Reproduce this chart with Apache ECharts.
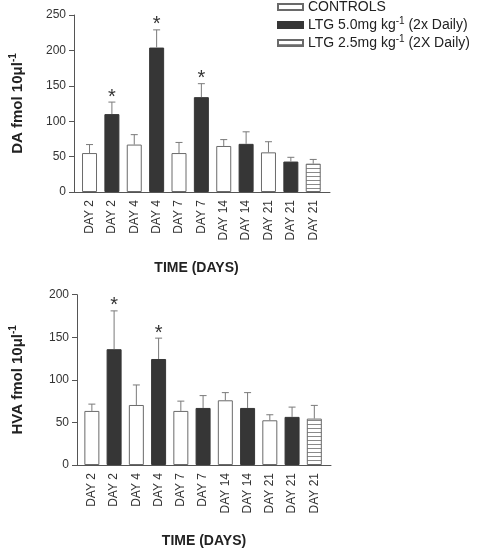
<!DOCTYPE html>
<html>
<head>
<meta charset="utf-8">
<script src="https://cdn.jsdelivr.net/npm/echarts@6/dist/echarts.min.js"></script>
<style>
html,body{margin:0;padding:0;background:#fff;}
#chart{width:478px;height:549px;}
</style>
</head>
<body>
<div id="chart"></div>
<script>
// ---- data ----
const categories = ['DAY 2','DAY 2','DAY 4','DAY 4','DAY 7','DAY 7','DAY 14','DAY 14','DAY 21','DAY 21','DAY 21'];
// group of each bar: 0 = controls, 1 = LTG 5.0, 2 = LTG 2.5
const groups = [0,1,0,1,0,1,0,1,0,1,2];
const seriesNames = ['CONTROLS','LTG 5.0mg kg-1 (2x Daily)','LTG 2.5mg kg-1 (2X Daily)'];

const daMean = [55,110,67,204,55,134,65,68,56,43,40];
const daSem  = [12,17,14,25,15,19,9,17,15,6,6];
const daSig  = [0,1,0,1,0,1,0,0,0,0,0];

const hvaMean = [63.5,136,70.5,124.5,63.5,67,76,67,52.5,56.5,54.5];
const hvaSem  = [8,45,23.5,24.5,11.5,14.5,9,18,6.5,11.5,15.5];
const hvaSig  = [0,1,0,1,0,0,0,0,0,0,0];

const daTicks = [0,50,100,150,200,250];
const hvaTicks = [0,50,100,150,200];

// ---- styles ----
const FONT = 'Liberation Sans, Arial, sans-serif';
const stripe = document.createElement('canvas');
stripe.width = 4; stripe.height = 4;
(function(){
  const c = stripe.getContext('2d');
  c.fillStyle = '#fff'; c.fillRect(0,0,4,4);
  c.fillStyle = '#8a8a8a'; c.fillRect(0,0,4,1);
})();
const groupStyles = [
  {color:'#ffffff', borderColor:'#6a6a6a', borderWidth:1},
  {color:'#363636', borderColor:'#363636', borderWidth:1},
  {color:{image:stripe, repeat:'repeat'}, borderColor:'#6a6a6a', borderWidth:1}
];

function barSeries(means, axisIdx){
  return seriesNames.map((name, g) => ({
    name: name,
    type: 'bar',
    xAxisIndex: axisIdx,
    yAxisIndex: axisIdx,
    barWidth: 15,
    barGap: '-100%',
    itemStyle: groupStyles[g],
    emphasis: {disabled: true},
    data: means.map((v, i) => groups[i] === g ? [i, v] : null).filter(d => d !== null)
  }));
}

function errSeries(means, sems, sigs, axisIdx){
  return {
    type: 'custom',
    xAxisIndex: axisIdx,
    yAxisIndex: axisIdx,
    z: 5,
    silent: true,
    data: means.map((v, i) => [i, v, v + sems[i], sigs[i]]),
    renderItem: function(params, api){
      const x = api.value(0), m = api.value(1), e = api.value(2), s = api.value(3);
      const p0 = api.coord([x, m]);
      const p1 = api.coord([x, e]);
      const children = [
        {type:'line', shape:{x1:p0[0], y1:p0[1], x2:p1[0], y2:p1[1]}, style:{stroke:'#7a7a7a', lineWidth:1}},
        {type:'line', shape:{x1:p1[0]-3.5, y1:p1[1], x2:p1[0]+3.5, y2:p1[1]}, style:{stroke:'#7a7a7a', lineWidth:1}}
      ];
      if (s) {
        children.push({type:'text', style:{text:'*', x:p1[0], y:p1[1]-5, align:'center', verticalAlign:'middle', font:'20px ' + FONT, fill:'#333'}});
      }
      return {type:'group', children: children};
    }
  };
}

function xAxisDef(gridIdx, min, max, pad){
  return {
    type: 'value',
    gridIndex: gridIdx,
    min: min, max: max,
    name: '{t|TIME (DAYS)}{p|}',
    nameLocation: 'middle',
    nameGap: 69,
    nameTextStyle: {
      rich: {
        t: {fontFamily: FONT, fontSize: 14, fontWeight: 'bold', color: '#222'},
        p: {width: pad}
      }
    },
    axisLine: {show: true, onZero: false, lineStyle: {color: '#555', width: 1}},
    axisTick: {show: false},
    splitLine: {show: false},
    axisLabel: {
      customValues: categories.map((c, i) => i),
      formatter: v => categories[Math.round(v)],
      rotate: 90,
      margin: 8,
      fontFamily: FONT,
      fontSize: 12,
      color: '#333'
    }
  };
}

function yAxisDef(gridIdx, ticks, name, gap){
  return {
    type: 'value',
    gridIndex: gridIdx,
    min: ticks[0], max: ticks[ticks.length-1], interval: ticks[1]-ticks[0],
    name: name,
    nameLocation: 'middle',
    nameGap: gap,
    nameRotate: 90,
    nameTextStyle: {
      rich: {
        t: {fontFamily: FONT, fontSize: 15, fontWeight: 'bold', color: '#222', lineHeight: 20},
        s: {fontFamily: FONT, fontSize: 10, fontWeight: 'bold', color: '#222', lineHeight: 10, verticalAlign: 'top'}
      }
    },
    axisLine: {show: true, onZero: false, lineStyle: {color: '#555', width: 1}},
    axisTick: {show: true, length: 5, lineStyle: {color: '#555'}},
    splitLine: {show: false},
    axisLabel: {margin: 8, fontFamily: FONT, fontSize: 12, color: '#333'}
  };
}

const chart = echarts.init(document.getElementById('chart'), null, {renderer: 'canvas'});
chart.setOption({
  animation: false,
  backgroundColor: '#fff',
  legend: {
    orient: 'vertical',
    left: 277,
    top: 0,
    padding: 0,
    itemGap: 2,
    itemWidth: 25,
    itemHeight: 6,
    icon: 'rect',
    selectedMode: false,
    data: seriesNames,
    formatter: function(name){
      return name.replace(/^(.*kg)-1(.*)$/, '{t|$1}{s|-1}{t|$2}').replace(/^CONTROLS$/, '{t|CONTROLS}');
    },
    textStyle: {
      rich: {
        t: {fontFamily: FONT, fontSize: 14, color: '#222', lineHeight: 18},
        s: {fontFamily: FONT, fontSize: 10, color: '#222', lineHeight: 10, verticalAlign: 'top'}
      }
    }
  },
  grid: [
    {left: 63, top: 15, width: 267, height: 177},
    {left: 66, top: 294.7, width: 265, height: 176.8}
  ],
  xAxis: [
    xAxisDef(0, -0.694, 10.75, 11),
    xAxisDef(1, -0.668, 10.75, 0)
  ],
  yAxis: [
    yAxisDef(0, daTicks, '{t|DA fmol 10μl}{s|-1}', 46),
    yAxisDef(1, hvaTicks, '{t|HVA fmol 10μl}{s|-1}', 49)
  ],
  series: [].concat(
    barSeries(daMean, 0),
    [errSeries(daMean, daSem, daSig, 0)],
    barSeries(hvaMean, 1),
    [errSeries(hvaMean, hvaSem, hvaSig, 1)]
  )
});
</script>
</body>
</html>
